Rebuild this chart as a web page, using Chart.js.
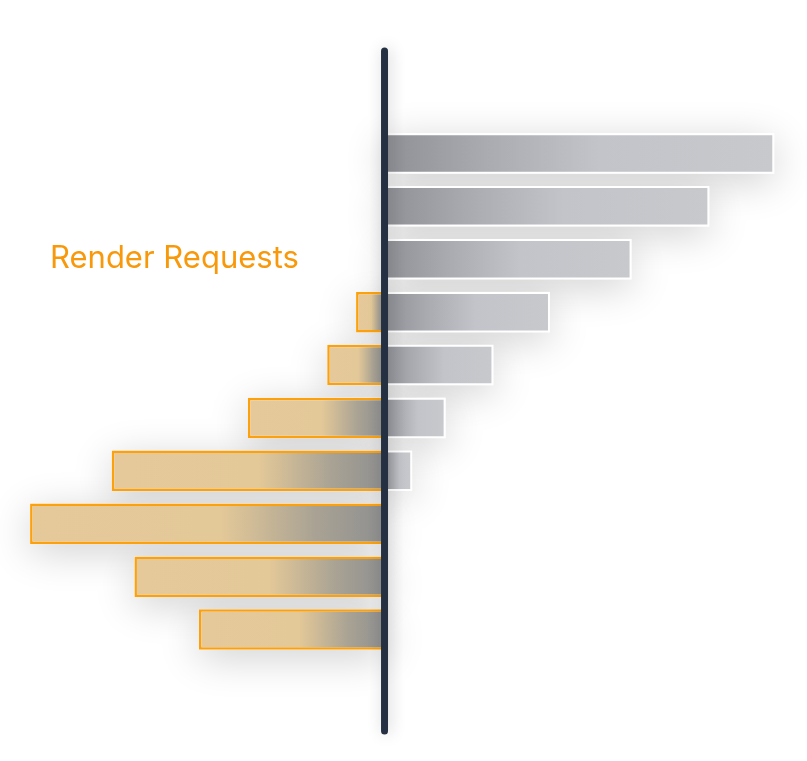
<!DOCTYPE html>
<html>
<head>
<meta charset="utf-8">
<script src="https://cdn.jsdelivr.net/npm/chart.js@4"></script>
<style>
  html, body { margin: 0; padding: 0; background: #ffffff; }
  #wrap { position: relative; width: 807px; height: 761px; }
  #lbl { position: absolute; left: 50px; top: 241px; font-family: Inter, "Noto Sans", sans-serif; font-size: 31px; line-height: 1; color: #f8990b; white-space: nowrap; }
</style>
</head>
<body>
<div id="wrap">
  <canvas id="c" width="807" height="761"></canvas>
  <div id="lbl">Render Requests</div>
</div>
<script>
const categories = ["B1", "B2", "B3", "B4", "B5", "B6", "B7", "B8", "B9", "B10"];
const grayValues = [102.7, 85.6, 65.1, 43.6, 28.7, 16.1, 7.3, null, null, null];
const renderRequests = [null, null, null, -7.5, -15.1, -36.0, -71.9, -93.4, -65.9, -48.9];
const xMin = -95, xMax = 105;

function grad(ctx, stops, fallback) {
  const chart = ctx.chart;
  if (!chart.chartArea || ctx.raw == null) return fallback;
  const xs = chart.scales.x;
  const x0 = xs.getPixelForValue(0);
  const x1 = xs.getPixelForValue(ctx.raw);
  if (Math.abs(x1 - x0) < 1) return fallback;
  const g = chart.ctx.createLinearGradient(x0, 0, x1, 0);
  stops.forEach(s => g.addColorStop(s[0], s[1]));
  return g;
}

const shadowPlugin = {
  id: 'shadows',
  beforeDatasetsDraw(chart) {
    const c = chart.ctx;
    c.save();
    c.shadowColor = 'rgba(0,0,0,0.19)';
    c.shadowBlur = 40;
    c.shadowOffsetX = 0;
    c.shadowOffsetY = 8;
    c.fillStyle = '#ffffff';
    chart.data.datasets.forEach((ds, i) => {
      const meta = chart.getDatasetMeta(i);
      meta.data.forEach((el, j) => {
        if (ds.data[j] == null) return;
        const p = el.getProps(['x', 'y', 'base', 'height'], true);
        const left = Math.min(p.x, p.base);
        const w = Math.abs(p.x - p.base);
        c.fillRect(left, p.y - p.height / 2, w, p.height);
      });
    });
    c.restore();
  },
  afterDatasetsDraw(chart) {
    const c = chart.ctx;
    const x = chart.scales.x.getPixelForValue(0);
    const a = chart.chartArea;
    c.save();
    c.shadowColor = 'rgba(0,0,0,0.2)';
    c.shadowBlur = 16;
    c.shadowOffsetX = 2;
    c.beginPath();
    c.moveTo(x, a.top - 76);
    c.lineTo(x, a.bottom + 75);
    c.lineWidth = 7;
    c.lineCap = 'round';
    c.strokeStyle = '#253142';
    c.stroke();
    c.restore();
  }
};

new Chart(document.getElementById('c'), {
  type: 'bar',
  data: {
    labels: categories,
    datasets: [
      {
        label: 'Other Requests',
        data: grayValues,
        backgroundColor: ctx => grad(ctx, [[0, '#8e9095'], [0.25, '#a8aaaf'], [0.55, '#c3c4c9'], [1, '#c8c9cd']], '#c2c3c8'),
        borderColor: '#ffffff',
        borderWidth: 2,
        categoryPercentage: 1,
        barPercentage: 0.766
      },
      {
        label: 'Render Requests',
        data: renderRequests,
        backgroundColor: ctx => grad(ctx, [[0, '#8e8f90'], [0.2, '#aaa394'], [0.46, '#e3c898'], [1, '#e6c99b']], '#e5c899'),
        borderColor: '#fca10c',
        borderWidth: 2.5,
        categoryPercentage: 1,
        barPercentage: 0.766
      }
    ]
  },
  options: {
    indexAxis: 'y',
    responsive: false,
    devicePixelRatio: 1,
    animation: false,
    layout: { padding: { left: 24, right: 24, top: 127, bottom: 105 } },
    scales: {
      x: { stacked: true, display: false, min: xMin, max: xMax, grid: { display: false } },
      y: { stacked: true, display: false, grid: { display: false } }
    },
    plugins: { legend: { display: false }, tooltip: { enabled: false } }
  },
  plugins: [shadowPlugin]
});
</script>
</body>
</html>
